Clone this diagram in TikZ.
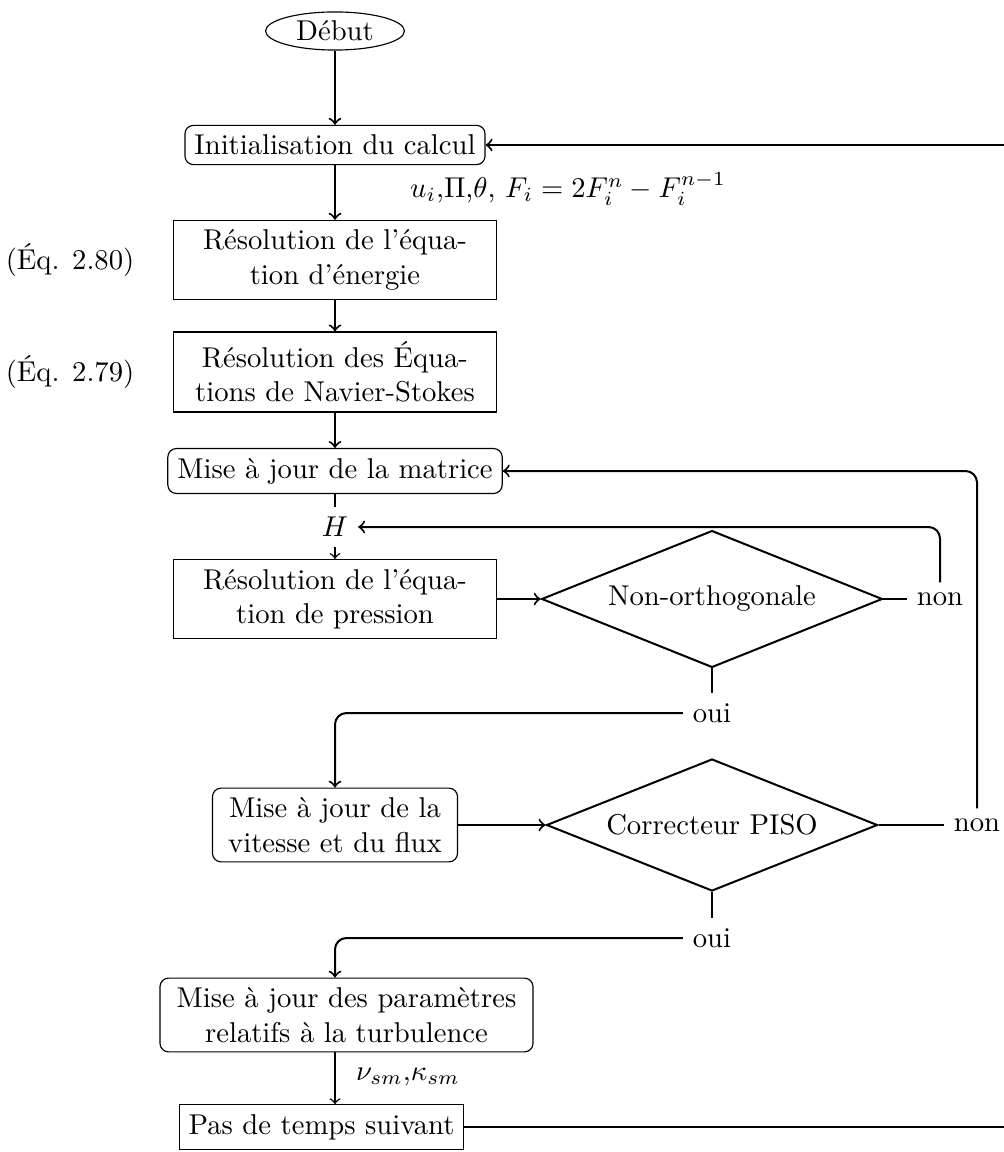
\documentclass[tikz,border=0pt]{standalone}
\usetikzlibrary{shapes.geometric,calc}
\begin{document}
\begin{tikzpicture}[x=0.3492pt,y=-0.3492pt,
  box/.style={draw,line width=0.4pt,rectangle,align=center},
  rbox/.style={draw,line width=0.4pt,rectangle,rounded corners=3pt,align=center},
  deci/.style={draw,line width=0.7pt,diamond,aspect=2.5,inner sep=0pt},
  conn/.style={line width=0.7pt},
  thinconn/.style={line width=0.5pt},
  plain/.style={inner sep=3.33pt}]
\useasboundingbox (0,0) rectangle (1003,1152);
\coordinate (col) at (335,0);
\node[draw,line width=0.4pt,ellipse,inner sep=0pt,minimum width=48.5pt,minimum height=13.3pt] (debut) at (335,31) {Début};
\node[rbox] (init) at (335,145) {Initialisation du calcul};
\node[plain] (lbl1) at (568,189) {$u_i$,$\Pi$,$\theta$, $F_i = 2F_i^n - F_i^{n-1}$};
\node[box,text width=106.3pt] (res1) at (335,260) {Résolution de l’équa-\\tion d’énergie};
\node[plain] (eq80) at (70,260) {(Éq. 2.80)};
\node[box,text width=106.3pt] (res2) at (335,372) {Résolution des Équa-\\tions de Navier-Stokes};
\node[plain] (eq79) at (70,372) {(Éq. 2.79)};
\node[rbox] (mat) at (335,471) {Mise à jour de la matrice};
\node[plain] (H) at (335,527) {$H$};
\node[box,text width=106.3pt] (pres) at (335,599) {Résolution de l’équa-\\tion de pression};
\node[deci,minimum width=119pt,minimum height=47.8pt] (d1) at (712,599) {Non-orthogonale};
\node[plain] (non1) at (940,599) {non};
\node[plain] (oui1) at (712,713) {oui};
\node[rbox,text width=78.9pt] (vel) at (335,825) {Mise à jour de la\\vitesse et du flux};
\node[deci,minimum width=115.6pt,minimum height=46.1pt] (d2) at (712,825) {Correcteur PISO};
\node[plain] (non2) at (977,825) {non};
\node[plain] (oui2) at (712,938) {oui};
\node[rbox,text width=123.6pt] (turb) at (346.5,1015) {Mise à jour des paramètres\\relatifs à la turbulence};
\node[plain] (lbl2) at (408,1077) {$\nu_{sm}$,$\kappa_{sm}$};
\node[box] (pas) at (321.5,1127) {Pas de temps suivant};
\coordinate (r1) at (1012,1127);
\coordinate (r2) at (1012,145);

\draw[conn,->] (debut) -- (init);
\draw[conn,->] (init) -- (res1);
\draw[conn,->] (res1) -- (res2);
\draw[conn,->] (res2) -- (mat);
\draw[thinconn] (mat) -- (H);
\draw[thinconn,->] (H) -- (pres);
\draw[conn,->] (pres) -- (d1);
\draw[conn] (d1) -- (non1);
\draw[conn,->,rounded corners=4pt] (non1.north) |- (H.east);
\draw[conn] (d1) -- (oui1);
\draw[conn,->,rounded corners=4pt] (oui1.west) -| (col |- vel.north);
\draw[conn,->] (vel) -- (d2);
\draw[conn] (d2) -- (non2);
\draw[conn,->,rounded corners=4pt] (non2.north) |- (mat.east);
\draw[conn] (d2) -- (oui2);
\draw[conn,->,rounded corners=4pt] (oui2.west) -| (col |- turb.north);
\draw[thinconn,->] (col |- turb.south) -- (col |- pas.north);
\draw[conn,->] (pas.east) -- (r1) -- (r2) -- (init.east);
\end{tikzpicture}
\end{document}
